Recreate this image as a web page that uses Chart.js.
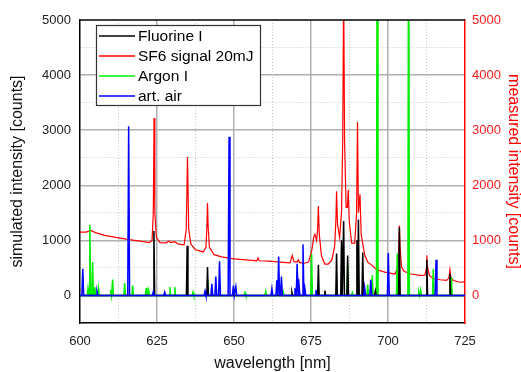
<!DOCTYPE html>
<html>
<head>
<meta charset="utf-8">
<script src="https://cdn.jsdelivr.net/npm/chart.js@4.4.1/dist/chart.umd.min.js"></script>
<style>
  body { margin: 0; background: #fff; }
</style>
</head>
<body>
<canvas id="spectrumChart" width="521" height="372"></canvas>
<script>
const xMin = 600, xMax = 725;   // wavelength range [nm]
const yMin = -500, yMax = 5000; // both intensity axes use the same range

// Fluorine I, simulated line positions and intensities
const fluorineNm     = [624.0, 634.8, 641.4, 668.8, 677.4, 679.5, 683.3, 684.9, 685.6, 686.9, 689.9, 690.4, 691.8, 695.9, 703.7, 712.6, 720.1];
const fluorineCounts = [1170, 900, 515, 60, 558, 90, 760, 1000, 1350, 727, 1000, 1380, 780, 80, 1240, 650, 394];

// Argon I, simulated
const argonNm     = [602.6, 603.2, 604.1, 604.8, 606.0, 610.0, 610.6, 614.5, 617.1, 621.5, 622.3, 629.2, 630.8, 636.7, 641.5, 653.6, 660.3, 666.0, 675.2, 686.9, 688.4, 693.4, 694.9, 696.5, 703.0, 706.7, 710.0, 710.6, 714.7, 720.6];
const argonCounts = [130, 1285, 605, 150, 130, 100, 290, 225, 180, 140, 90, 150, 150, 60, 260, 50, 70, 60, 750, 576, 50, 200, 364, 8000, 757, 8000, 60, 100, 485, 333];

// artificial air, simulated
const airNm     = [600.9, 605.5, 615.8, 623.8, 627.5, 640.6, 642.8, 644.1, 645.3, 648.4, 649.8, 650.6, 662.3, 663.9, 664.5, 665.4, 669.8, 670.5, 671.1, 672.4, 673.0, 676.6, 692.4, 694.4, 700.1, 715.6];
const airCounts = [485, 80, 3070, 70, 60, 80, 210, 345, 620, 2880, 180, 160, 127, 273, 709, 345, 130, 576, 303, 927, 130, 100, 150, 285, 770, 650];

// SF6 measured spectrum (right axis)
const sfNm = [600, 602, 603.5, 605, 608, 612, 616, 620, 622.5, 623.4, 623.8, 624.05, 624.3, 624.8, 626, 628, 628.8, 629.5, 630.7, 632,
  633.8, 634.5, 634.9, 635.3, 636, 637.5, 640, 640.9, 641.2, 641.4, 641.6, 642, 643.5, 646, 650, 654, 657.4, 657.8, 658.2, 661.4,
  664, 668.2, 668.9, 669.5, 670.6, 670.9, 671.3, 672.5, 674.2, 675.2, 675.9, 676.3, 676.8, 677.1, 677.4, 677.7, 678.4, 679.5, 680.6, 681.8,
  682.7, 683.1, 683.3, 683.6, 684.3, 684.9, 685.3, 685.6, 685.9, 686.4, 686.8, 687.1, 687.4, 688.2, 689.2, 689.8, 690.1, 690.4, 690.9, 691.3,
  692.5, 693.5, 694.5, 696.3, 696.5, 696.7, 699, 702.3, 703.2, 703.5, 703.7, 703.9, 704.4, 705.2, 707.1, 710.4, 712.0, 712.4, 712.6, 712.8,
  713.5, 714.7, 717, 719, 719.8, 720.1, 720.4, 721.2, 723.4, 725];
const sfCounts = [1150, 1150, 1180, 1140, 1090, 1050, 1015, 980, 960, 1000, 1500, 3220, 1500, 1050, 960, 955, 990, 960, 975, 930,
  920, 1200, 2515, 1200, 930, 830, 790, 880, 1250, 1680, 1250, 880, 740, 700, 665, 645, 630, 680, 630, 624,
  610, 590, 727, 610, 610, 650, 600, 580, 605, 800, 1060, 1110, 1000, 1150, 1625, 1100, 720, 570, 570, 650,
  900, 1400, 1890, 1300, 1050, 1500, 2800, 5600, 2800, 1600, 1600, 1920, 1350, 950, 950, 1500, 3150, 1500, 1835, 1100,
  720, 600, 560, 470, 500, 460, 424, 390, 520, 900, 1270, 900, 520, 440, 394, 364, 370, 480, 727, 520,
  360, 303, 285, 273, 320, 467, 330, 270, 240, 245];

const xTickLabels = [600, 625, 650, 675, 700, 725];
const yTickLabels = [0, 1000, 2000, 3000, 4000, 5000];

// each line rises from the zero baseline and falls back
function sticks(nm, counts, halfWidth) {
  const pts = [{ x: xMin, y: 0 }];
  nm.forEach((w, i) => {
    pts.push({ x: w - halfWidth, y: 0 });
    pts.push({ x: w, y: counts[i] });
    pts.push({ x: w + halfWidth, y: 0 });
  });
  pts.push({ x: xMax, y: 0 });
  return pts;
}

const majorGrid = '#b0b0b0';
const minorGrid = '#c8c8c8';
const clear = 'rgba(0,0,0,0)';

function xGridColor(c) {
  if (!c.tick) return clear;
  const v = c.tick.value;
  if (v <= xMin || v >= xMax) return clear;
  return xTickLabels.includes(v) ? majorGrid : minorGrid;
}
function yGridColor(c) {
  if (!c.tick) return clear;
  const v = c.tick.value;
  if (v <= yMin || v >= yMax) return clear;
  return yTickLabels.includes(v) ? majorGrid : minorGrid;
}
const xDash = c => (c.tick && !xTickLabels.includes(c.tick.value)) ? [1, 2] : [];
const yDash = c => (c.tick && !yTickLabels.includes(c.tick.value)) ? [1, 2] : [];
const xWidth = c => (c.tick && xTickLabels.includes(c.tick.value)) ? 1.5 : 1;
const yWidth = c => (c.tick && yTickLabels.includes(c.tick.value)) ? 1.5 : 1;

// legend box inside the plot + top frame line
const boxLegend = {
  id: 'boxLegend',
  afterDraw(chart) {
    const ctx = chart.ctx;
    const area = chart.chartArea;
    ctx.save();
    ctx.strokeStyle = '#000';
    ctx.lineWidth = 1.5;
    ctx.beginPath();
    ctx.moveTo(area.left, area.top);
    ctx.lineTo(area.right, area.top);
    ctx.stroke();

    const bx = area.left + 16, by = area.top + 5;
    ctx.fillStyle = '#fff';
    ctx.fillRect(bx, by, 165, 81);
    ctx.strokeStyle = '#333';
    ctx.lineWidth = 1.2;
    ctx.strokeRect(bx + 0.5, by + 0.5, 164, 80);
    ctx.font = '15.5px "Liberation Sans", Arial, sans-serif';
    ctx.textBaseline = 'middle';
    chart.data.datasets.forEach((ds, i) => {
      const ry = by + 11 + i * 20;
      ctx.strokeStyle = ds.borderColor;
      ctx.lineWidth = 1.5;
      ctx.beginPath();
      ctx.moveTo(bx + 3, ry);
      ctx.lineTo(bx + 39, ry);
      ctx.stroke();
      ctx.fillStyle = '#000';
      ctx.fillText(ds.label, bx + 42, ry + 1);
    });
    ctx.restore();
  }
};

Chart.defaults.font.family = '"Liberation Sans", Arial, sans-serif';

new Chart(document.getElementById('spectrumChart'), {
  type: 'line',
  data: {
    datasets: [
      { label: 'Fluorine I', data: sticks(fluorineNm, fluorineCounts, 0.25), borderColor: '#000000', borderWidth: 1.5, yAxisID: 'y', order: 1 },
      { label: 'SF6 signal 20mJ', data: sfNm.map((w, i) => ({ x: w, y: sfCounts[i] })), borderColor: '#ff0000', borderWidth: 1.2, yAxisID: 'y1', order: 3 },
      { label: 'Argon I', data: sticks(argonNm, argonCounts, 0.25), borderColor: '#00ee00', borderWidth: 1.5, yAxisID: 'y', order: 2 },
      { label: 'art. air', data: sticks(airNm, airCounts, 0.3), borderColor: '#0000ff', borderWidth: 1.5, yAxisID: 'y', order: 0 }
    ]
  },
  options: {
    responsive: false,
    animation: false,
    layout: { padding: { top: 20, left: 0, right: 0, bottom: 0 } },
    elements: { point: { radius: 0 }, line: { tension: 0, fill: false } },
    plugins: { legend: { display: false }, tooltip: { enabled: false } },
    scales: {
      x: {
        type: 'linear',
        min: xMin,
        max: xMax,
        afterFit(s) { s.height = 49; },
        ticks: {
          stepSize: 12.5, autoSkip: false, maxRotation: 0, padding: 11,
          color: '#222', font: { size: 13 },
          callback: v => xTickLabels.includes(v) ? v : ''
        },
        grid: { drawTicks: false, color: xGridColor, lineWidth: xWidth },
        border: { color: '#000', width: 1.5, dash: xDash },
        title: { display: true, text: 'wavelength [nm]', color: '#111', font: { size: 16, lineHeight: 1 }, padding: { top: 4, bottom: 0 } }
      },
      y: {
        type: 'linear',
        position: 'left',
        min: yMin,
        max: yMax,
        afterFit(s) { s.width = 80; },
        ticks: {
          stepSize: 500, autoSkip: false, padding: 9,
          color: '#222', font: { size: 13 },
          callback: v => yTickLabels.includes(v) ? v : ''
        },
        grid: { drawTicks: false, color: yGridColor, lineWidth: yWidth },
        border: { color: '#000', width: 1.5, dash: yDash },
        title: { display: true, text: 'simulated intensity [counts]', color: '#111', font: { size: 16 }, padding: { top: 8, bottom: 4 } }
      },
      y1: {
        type: 'linear',
        position: 'right',
        min: yMin,
        max: yMax,
        afterFit(s) { s.width = 56; },
        ticks: {
          stepSize: 500, autoSkip: false, padding: 7,
          color: '#ff1a1a', font: { size: 13 },
          callback: v => yTickLabels.includes(v) ? v : ''
        },
        grid: { drawOnChartArea: false, drawTicks: false },
        border: { color: '#ff0000', width: 1.5 },
        title: { display: true, text: 'measured intensity [counts]', color: '#ff0000', font: { size: 16, lineHeight: 1 }, padding: { top: 0, bottom: 2 } }
      }
    }
  },
  plugins: [boxLegend]
});
</script>
</body>
</html>
